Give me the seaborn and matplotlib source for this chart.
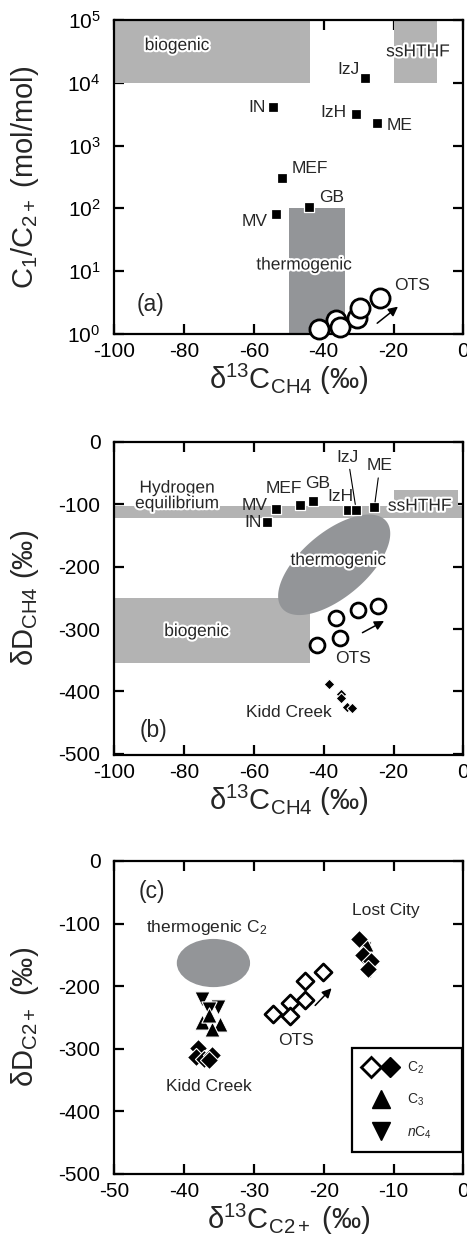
"""Methane / C2+ isotope systematics, three stacked panels."""
import matplotlib
matplotlib.use("Agg")
import matplotlib.pyplot as plt
import matplotlib.patheffects as pe
from matplotlib.patches import Ellipse
from matplotlib.lines import Line2D
from matplotlib.legend_handler import HandlerTuple
from matplotlib.ticker import LogLocator, NullLocator, MultipleLocator
import numpy as np
import seaborn as sns

# ---- (a) C1/C2+ vs d13C-CH4
vent_a_names = ["IzJ", "IN", "IzH", "ME", "MEF", "GB", "MV"]
vent_a_d13c = [-28.2, -54.6, -30.7, -24.7, -51.9, -44.1, -53.6]
vent_a_ratio = [1.2e4, 4.1e3, 3.2e3, 2.3e3, 300, 106, 81]
ots_a_d13c = [-41.3, -36.5, -35.3, -30.5, -29.6, -23.9]
ots_a_ratio = [1.2, 1.66, 1.3, 1.78, 2.6, 3.7]

# ---- (b) dD-CH4 vs d13C-CH4
vent_b_names = ["MV", "IN", "MEF", "GB", "IzH", "IzJ", "ME"]
vent_b_d13c = [-53.8, -56.3, -46.8, -43.2, -33.0, -30.7, -25.5]
vent_b_dD = [-107, -129, -101, -94, -109, -109, -105]
ots_b_d13c = [-42.0, -35.3, -36.5, -30.1, -24.4]
ots_b_dD = [-325, -315, -283, -269, -263]
kidd_b_d13c = [-38.6, -35.1, -35.1, -33.4, -31.8]
kidd_b_dD = [-388, -404, -411, -425, -426]

# ---- (c) dD vs d13C of C2+ hydrocarbons
ots_c2_d13c = [-27.2, -24.9, -24.9, -22.7, -22.7, -20.1]
ots_c2_dD = [-244, -227, -248, -222, -192, -178]
lost_c2_d13c = [-15.0, -14.3, -13.2, -13.6]
lost_c2_dD = [-125, -150, -160, -172]
lost_c3_d13c = [-13.9, -13.5]
lost_c3_dD = [-133, -165]
lost_c4_d13c = [-14.2, -13.4]
lost_c4_dD = [-140, -175]
kidd_c2_d13c = [-38.0, -38.3, -37.2, -36.0, -36.4]
kidd_c2_dD = [-298, -313, -316, -310, -318]
kidd_c3_d13c = [-37.4, -34.8, -36.0, -36.5]
kidd_c3_dD = [-257, -260, -268, -246]
kidd_c4_d13c = [-37.5, -35.2, -36.4]
kidd_c4_dD = [-220, -234, -236]

# source fields (x0, x1, y0, y1)
biogenic_a = (-100, -44, 1e4, 1e5)
sshthf_a = (-20, -7.5, 1e4, 1e5)
thermo_a = (-50, -34, 1, 100)
h2_band_b = (-100, 0, -122, -103)
sshthf_b = (-20, -1.5, -122, -77)
biogenic_b = (-100, -44, -355, -250)
thermo_b_center = (-37.0, -197)
thermo_b_major = (14.9, 70)
thermo_b_minor = (-6.0, 40.0)
thermo_c = (-35.8, -163, 10.5, 77)

# OTS trend arrows (start, end)
arrow_a = ((-25.3, 1.39), (-18.1, 2.9))
arrow_b = ((-29.6, -308), (-22.0, -285))
arrow_c = ((-21.5, -234), (-18.6, -200))

LIGHT = "#b3b3b3"
DARK = "#939598"
FS = 12.5
halo = [pe.withStroke(linewidth=3, foreground="white")]

sns.set_style("ticks")
plt.rcParams["font.family"] = ["Liberation Sans", "DejaVu Sans"]
plt.rcParams["mathtext.fontset"] = "custom"
plt.rcParams["mathtext.rm"] = "Liberation Sans"
plt.rcParams["mathtext.it"] = "Liberation Sans:italic"
plt.rcParams["mathtext.bf"] = "Liberation Sans:bold"
plt.rcParams["mathtext.default"] = "regular"
plt.rcParams["axes.unicode_minus"] = False


def style_axes(ax):
    for s in ax.spines.values():
        s.set_linewidth(1.6)
        s.set_color("black")
    ax.tick_params(direction="in", length=7, width=1.6, top=True, right=True,
                   labelsize=15, colors="black")
    ax.tick_params(axis="x", pad=6)
    ax.tick_params(axis="y", pad=10)
    ax.tick_params(which="minor", length=0)


def box(ax, rect, color, z=1):
    x0, x1, y0, y1 = rect
    ax.fill_between([x0, x1], y0, y1, color=color, lw=0, zorder=z)


def vents(ax, xs, ys, names, offsets, lines=()):
    sns.scatterplot(x=xs, y=ys, ax=ax, marker="s", s=60, color="black",
                    edgecolor="white", linewidth=0.9, zorder=6)
    for x, y, n in zip(xs, ys, names):
        dx, dy, ha = offsets[n]
        arrow = dict(arrowstyle="-", lw=0.8, color="black", shrinkA=1, shrinkB=4) if n in lines else None
        ax.annotate(n, (x, y), xytext=(dx, dy), textcoords="offset points",
                    ha=ha, va="center", fontsize=FS, arrowprops=arrow, zorder=7)


def trend_arrow(ax, arr):
    ax.annotate("", xy=arr[1], xytext=arr[0],
                arrowprops=dict(arrowstyle="-|>", color="black", lw=1.1, mutation_scale=14))


fig = plt.figure(figsize=(4.67, 12.46), dpi=100)
L, W = 0.2448, 0.7473
ax_a = fig.add_axes([L, 0.7320, W, 0.2520])
ax_b = fig.add_axes([L, 0.3941, W, 0.2512])
ax_c = fig.add_axes([L, 0.0578, W, 0.2512])

# ---------------- (a)
ax = ax_a
box(ax, biogenic_a, LIGHT)
box(ax, sshthf_a, LIGHT)
box(ax, thermo_a, DARK)
vents(ax, vent_a_d13c, vent_a_ratio, vent_a_names, {
    "IzJ": (-4, 6, "right"), "IN": (-5, 0, "right"), "IzH": (-7, 1, "right"),
    "ME": (7, -2, "left"), "MEF": (7, 7, "left"), "GB": (7, 7, "left"),
    "MV": (-6, -5, "right")})
sns.scatterplot(x=ots_a_d13c, y=ots_a_ratio, ax=ax, marker="o", s=190,
                color="white", edgecolor="black", linewidth=2, zorder=5, clip_on=False)
trend_arrow(ax, arrow_a)
ax.text(-82, 3.9e4, "biogenic", fontsize=FS, ha="center", va="center", path_effects=halo)
ax.text(-13, 3.1e4, "ssHTHF", fontsize=FS, ha="center", va="center", path_effects=halo)
ax.text(-45.6, 12.5, "thermogenic", fontsize=FS, ha="center", va="center", path_effects=halo)
ax.text(-14.6, 6.0, "OTS", fontsize=FS, ha="center", va="center")
ax.text(-89.7, 2.9, "(a)", fontsize=16.5, ha="center", va="center")
ax.set_yscale("log")
ax.set_xlim(-100, 0)
ax.set_ylim(1, 1e5)
ax.yaxis.set_major_locator(LogLocator(base=10, numticks=10))
ax.yaxis.set_minor_locator(NullLocator())
ax.xaxis.set_major_locator(MultipleLocator(20))
ax.set_xlabel("δ$^{13}$C$_{CH4}$ (‰)", fontsize=21)
ax.set_ylabel("C$_1$/C$_{2+}$ (mol/mol)", fontsize=21)

# ---------------- (b)
ax = ax_b
box(ax, h2_band_b, LIGHT)
box(ax, sshthf_b, LIGHT)
box(ax, biogenic_b, LIGHT)
t = np.linspace(0, 2 * np.pi, 200)
ex = thermo_b_center[0] + thermo_b_major[0] * np.cos(t) + thermo_b_minor[0] * np.sin(t)
ey = thermo_b_center[1] + thermo_b_major[1] * np.cos(t) + thermo_b_minor[1] * np.sin(t)
ax.fill(ex, ey, color=DARK, lw=0, zorder=2)
vents(ax, vent_b_d13c, vent_b_dD, vent_b_names, {
    "MV": (-6, 2, "right"), "IN": (-4, 0, "right"), "MEF": (-12, 11.5, "center"),
    "GB": (3.5, 12.5, "center"), "IzH": (-5.5, 10, "center"),
    "IzJ": (-6, 38, "center"), "ME": (4, 30, "center")}, lines=("IzJ", "ME"))
sns.scatterplot(x=ots_b_d13c, y=ots_b_dD, ax=ax, marker="o", s=115,
                color="white", edgecolor="black", linewidth=2, zorder=5)
sns.scatterplot(x=kidd_b_d13c, y=kidd_b_dD, ax=ax, marker="D", s=30,
                color="black", edgecolor="white", linewidth=0.8, zorder=5)
trend_arrow(ax, arrow_b)
ax.text(-82, -74, "Hydrogen", fontsize=FS, ha="center", va="center", path_effects=halo, zorder=4)
ax.text(-82, -99, "equilibrium", fontsize=FS, ha="center", va="center", path_effects=halo, zorder=4)
ax.text(-12.5, -103, "ssHTHF", fontsize=FS, ha="center", va="center", path_effects=halo, zorder=4)
ax.text(-35.8, -190, "thermogenic", fontsize=FS, ha="center", va="center", path_effects=halo, zorder=4)
ax.text(-76.4, -304, "biogenic", fontsize=FS, ha="center", va="center", path_effects=halo, zorder=4)
ax.text(-31.5, -347, "OTS", fontsize=FS, ha="center", va="center")
ax.text(-50.1, -434, "Kidd Creek", fontsize=FS, ha="center", va="center")
ax.text(-88.8, -462, "(b)", fontsize=16.5, ha="center", va="center")
ax.set_xlim(-100, 0)
ax.set_ylim(-502, 0)
ax.xaxis.set_major_locator(MultipleLocator(20))
ax.yaxis.set_major_locator(MultipleLocator(100))
ax.set_xlabel("δ$^{13}$C$_{CH4}$ (‰)", fontsize=21)
ax.set_ylabel("δD$_{CH4}$ (‰)", fontsize=21)

# ---------------- (c)
ax = ax_c
cx, cy, cw, ch = thermo_c
ax.add_patch(Ellipse((cx, cy), cw, ch, color=DARK, lw=0, zorder=2))
tri_kw = dict(ax=ax, s=120, color="black", edgecolor="white", linewidth=0.8, zorder=5)
dia_kw = dict(ax=ax, s=85, color="black", edgecolor="white", linewidth=0.8, zorder=6)
sns.scatterplot(x=kidd_c4_d13c, y=kidd_c4_dD, marker="v", **tri_kw)
sns.scatterplot(x=kidd_c3_d13c, y=kidd_c3_dD, marker="^", **tri_kw)
sns.scatterplot(x=kidd_c2_d13c, y=kidd_c2_dD, marker="D", **dia_kw)
sns.scatterplot(x=lost_c4_d13c, y=lost_c4_dD, marker="v", **tri_kw)
sns.scatterplot(x=lost_c3_d13c, y=lost_c3_dD, marker="^", **tri_kw)
sns.scatterplot(x=lost_c2_d13c, y=lost_c2_dD, marker="D", **dia_kw)
sns.scatterplot(x=ots_c2_d13c, y=ots_c2_dD, ax=ax, marker="D", s=75, color="white",
                edgecolor="black", linewidth=2, zorder=6)
trend_arrow(ax, arrow_c)
ax.text(-44.6, -49, "(c)", fontsize=16.5, ha="center", va="center")
ax.text(-36.8, -106, "thermogenic C$_2$", fontsize=FS, ha="center", va="center")
ax.text(-11.1, -79.5, "Lost City", fontsize=FS, ha="center", va="center")
ax.text(-23.9, -286, "OTS", fontsize=FS, ha="center", va="center")
ax.text(-36.5, -361, "Kidd Creek", fontsize=FS, ha="center", va="center")

mk = dict(ls="none", ms=10)
h_c2 = (Line2D([], [], marker="D", mfc="white", mec="black", mew=2, **mk),
        Line2D([], [], marker="D", color="black", **mk))
h_c3 = Line2D([], [], marker="^", color="black", ls="none", ms=13)
h_c4 = Line2D([], [], marker="v", color="black", ls="none", ms=13)
leg = ax.legend([h_c2, h_c3, h_c4], ["C$_2$", "C$_3$", "$\\it{n}$C$_4$"],
                handler_map={tuple: HandlerTuple(ndivide=None, pad=0.1)},
                loc="lower left", bbox_to_anchor=(0.68, 0.071, 0.315, 0.32),
                mode="expand", borderaxespad=0,
                fontsize=10, frameon=True, fancybox=False, framealpha=1,
                edgecolor="black", handlelength=2.6, labelspacing=1.15,
                borderpad=0.8, handletextpad=0.6)
leg.get_frame().set_linewidth(1.6)
ax.set_xlim(-50, 0)
ax.set_ylim(-500, 0)
ax.xaxis.set_major_locator(MultipleLocator(10))
ax.yaxis.set_major_locator(MultipleLocator(100))
ax.set_xlabel("δ$^{13}$C$_{C2+}$ (‰)", fontsize=21)
ax.set_ylabel("δD$_{C2+}$ (‰)", fontsize=21)

for ax in (ax_a, ax_b, ax_c):
    style_axes(ax)
    ax.xaxis.set_label_coords(0.5, -0.088)
    ax.yaxis.set_label_coords(-0.21, 0.5)

fig.savefig("out.png", dpi=100, facecolor="white")
plt.close(fig)
